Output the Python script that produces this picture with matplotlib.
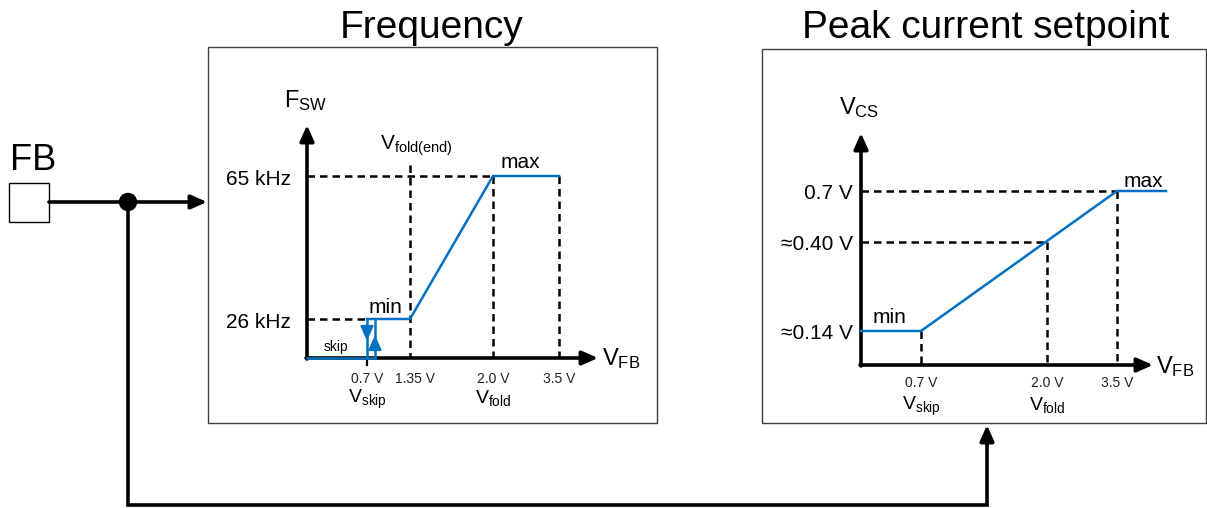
import matplotlib

matplotlib.use("Agg")
import matplotlib.pyplot as plt
from matplotlib.patches import Rectangle, Circle

plt.rcParams["font.family"] = ["Liberation Sans", "DejaVu Sans"]
plt.rcParams["mathtext.fontset"] = "custom"
plt.rcParams["mathtext.rm"] = "Liberation Sans"
plt.rcParams["mathtext.it"] = "Liberation Sans:italic"

BLUE = "#0070C0"

# Frequency panel: V_FB breakpoints and frequency levels (schematic drawing units)
freq_origin = (307, 358)
freq_x_labels = ["0.7 V", "1.35 V", "2.0 V", "3.5 V"]
freq_x = [367, 410, 493, 559]
freq_y_labels = ["26 kHz", "65 kHz"]
freq_y = [319, 176]
skip_x = [367, 375]  # hysteresis pair around V_skip

# Peak current panel: V_FB breakpoints and V_CS levels
cs_origin = (861, 365)
cs_x_labels = ["0.7 V", "2.0 V", "3.5 V"]
cs_x = [921, 1047, 1117]
cs_y_labels = ["≈0.14 V", "≈0.40 V", "0.7 V"]
cs_y = [331, 242, 191]
cs_end_x = 1166

fig = plt.figure(figsize=(12.07, 5.08), dpi=100)
ax = fig.add_axes([0, 0, 1, 1])
ax.set_xlim(0, 1207)
ax.set_ylim(508, 0)
ax.axis("off")


def arrow(x0, y0, x1, y1, color="black", lw=2.6, head=(0.95, 0.42)):
    style = "-|>,head_length=%g,head_width=%g" % head
    ax.annotate("", xy=(x1, y1), xytext=(x0, y0),
                arrowprops=dict(arrowstyle=style, color=color, lw=lw,
                                shrinkA=0, shrinkB=0))


def dashed(xs, ys):
    ax.plot(xs, ys, color="black", lw=1.8, ls=(0, (3, 2)), zorder=2)


# panel frames and titles
ax.add_patch(Rectangle((208, 47), 449, 376, fill=False, ec="#404040", lw=1.0))
ax.add_patch(Rectangle((762, 49), 444, 374, fill=False, ec="#404040", lw=1.0))
ax.text(432, 38, "Frequency", size=28, ha="center", va="baseline")
ax.text(986, 38, "Peak current setpoint", size=28, ha="center", va="baseline")

# FB pin and signal routing
ax.text(10, 170, "FB", size=26, ha="left", va="baseline")
ax.add_patch(Rectangle((9, 183), 40, 39, fill=False, ec="black", lw=1.0))
arrow(49, 202, 207, 202)
ax.plot([128, 128, 987, 987], [202, 505, 505, 440], color="black", lw=2.6,
        solid_joinstyle="miter")
arrow(987, 445, 987, 425)
ax.add_patch(Circle((128, 202), 8.5, color="black", zorder=5))

# ---- frequency panel ----
ox, oy = freq_origin
arrow(ox, oy + 1, ox, 125)
arrow(ox - 1, oy, 598, oy)

# guide lines
dashed([ox, skip_x[0]], [freq_y[0]] * 2)
dashed([ox, freq_x[2]], [freq_y[1]] * 2)
dashed([freq_x[1]] * 2, [165, oy])
dashed([freq_x[2]] * 2, [freq_y[1], oy])
dashed([freq_x[3]] * 2, [freq_y[1], oy])
ax.plot([freq_x[0]] * 2, [oy, oy + 7], color="black", lw=1.6)

# switching frequency curve
ax.plot([ox, skip_x[1]], [oy, oy], color=BLUE, lw=1.8, zorder=3)
for sx in skip_x:
    ax.plot([sx, sx], [oy, freq_y[0]], color=BLUE, lw=1.8, zorder=3)
ax.plot([skip_x[0], freq_x[1], freq_x[2], freq_x[3]],
        [freq_y[0], freq_y[0], freq_y[1], freq_y[1]], color=BLUE, lw=1.8, zorder=3)
arrow(skip_x[0], 325, skip_x[0], 341, color=BLUE, lw=1.5, head=(0.9, 0.4))
arrow(skip_x[1], 351, skip_x[1], 335, color=BLUE, lw=1.5, head=(0.9, 0.4))

ax.text(306, 107, r"F$_{\mathrm{SW}}$", size=17, ha="center", va="baseline")
ax.text(602, 365, r"V$_{\mathrm{FB}}$", size=17, ha="left", va="baseline")
ax.text(416, 150, r"V$_{\mathrm{fold(end)}}$", size=15, ha="center", va="baseline")
ax.text(520, 168, "max", size=15, ha="center", va="baseline")
ax.text(385, 313, "min", size=15, ha="center", va="baseline")
ax.text(336, 351, "skip", size=10, ha="center", va="baseline")
for lab, y in zip(freq_y_labels, freq_y):
    ax.text(291, y + 9, lab, size=15, ha="right", va="baseline")
for i, (lab, x) in enumerate(zip(freq_x_labels, freq_x)):
    # nudge the 1.35 V label clear of its neighbour
    ax.text(x + (5 if i == 1 else 0), oy + 25, lab, size=10, ha="center",
            va="baseline", color="#222222")
ax.text(freq_x[0], oy + 45, r"V$_{\mathrm{skip}}$", size=14, ha="center", va="baseline")
ax.text(freq_x[2], oy + 45, r"V$_{\mathrm{fold}}$", size=14, ha="center", va="baseline")

# ---- peak current panel ----
ox, oy = cs_origin
arrow(ox, oy + 1, ox, 133)
arrow(ox - 1, oy, 1153, oy)

dashed([ox, cs_x[2]], [cs_y[2]] * 2)
dashed([ox, cs_x[1]], [cs_y[1]] * 2)
dashed([cs_x[0]] * 2, [cs_y[0], oy])
dashed([cs_x[1]] * 2, [cs_y[1], oy])
dashed([cs_x[2]] * 2, [cs_y[2], oy])

ax.plot([ox, cs_x[0], cs_x[2], cs_end_x], [cs_y[0], cs_y[0], cs_y[2], cs_y[2]],
        color=BLUE, lw=1.8, zorder=3)

ax.text(859, 114, r"V$_{\mathrm{CS}}$", size=17, ha="center", va="baseline")
ax.text(1156, 373, r"V$_{\mathrm{FB}}$", size=17, ha="left", va="baseline")
ax.text(1143, 187, "max", size=15, ha="center", va="baseline")
ax.text(889, 323, "min", size=15, ha="center", va="baseline")
for lab, y in zip(cs_y_labels, cs_y):
    ax.text(853, y + 8, lab, size=15, ha="right", va="baseline")
for lab, x in zip(cs_x_labels, cs_x):
    ax.text(x, oy + 22, lab, size=10, ha="center", va="baseline", color="#222222")
ax.text(cs_x[0], oy + 45, r"V$_{\mathrm{skip}}$", size=14, ha="center", va="baseline")
ax.text(cs_x[1], oy + 45, r"V$_{\mathrm{fold}}$", size=14, ha="center", va="baseline")

fig.savefig("out.png", dpi=100)
